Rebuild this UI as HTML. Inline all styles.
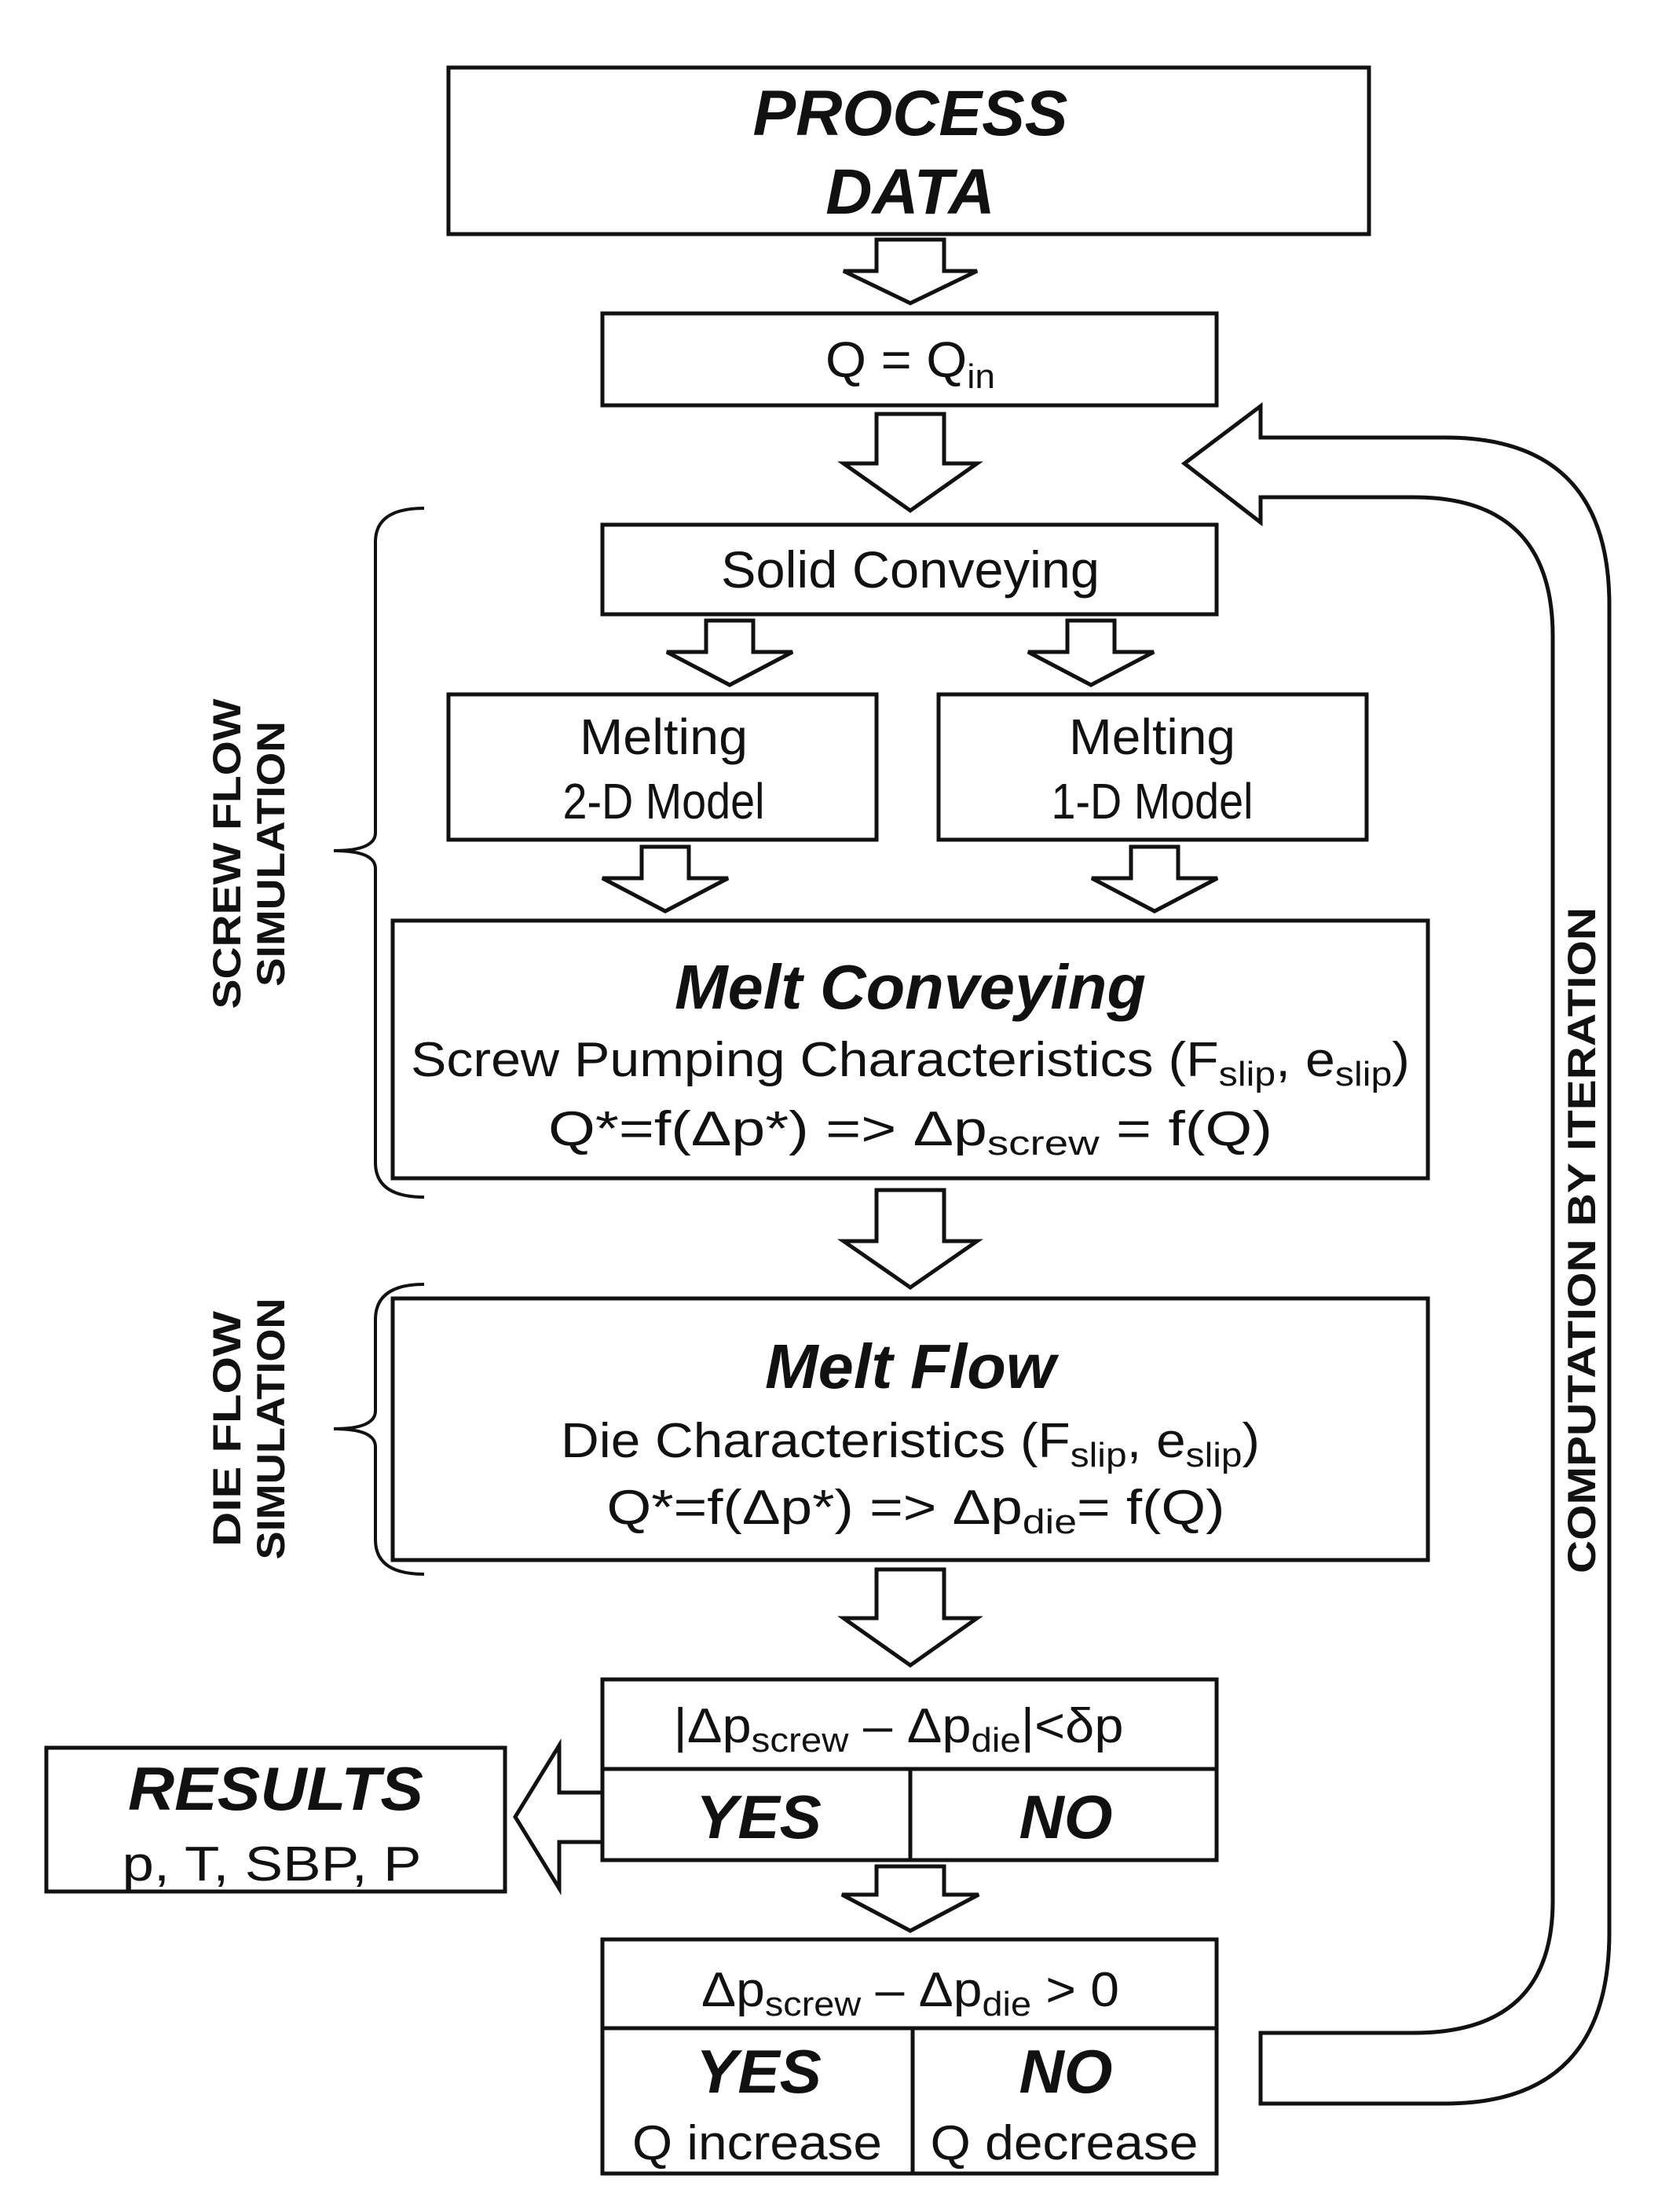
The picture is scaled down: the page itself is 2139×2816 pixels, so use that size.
<!DOCTYPE html>
<html><head><meta charset="utf-8"><style>
html,body{margin:0;padding:0;background:#fff}
svg{display:block}
text{font-family:"Liberation Sans Narrow","Liberation Sans",sans-serif;fill:#111}
.b{font-weight:bold;font-style:italic}
.r{font-family:"Liberation Sans",sans-serif;font-weight:bold}
</style></head><body>
<svg width="2139" height="2816" viewBox="0 0 2139 2816" xmlns="http://www.w3.org/2000/svg">
<g fill="#fff" stroke="#111" stroke-width="5">
<rect x="571" y="86" width="1172" height="212"/>
<rect x="767" y="399" width="782" height="117"/>
<rect x="767" y="668" width="782" height="114"/>
<rect x="571" y="884" width="545" height="185"/>
<rect x="1195" y="884" width="545" height="185"/>
<rect x="500" y="1172" width="1318" height="328"/>
<rect x="500" y="1653" width="1318" height="333"/>
<rect x="767" y="2138" width="782" height="230"/>
<line x1="767" y1="2252" x2="1549" y2="2252"/>
<line x1="1159" y1="2252" x2="1159" y2="2368"/>
<rect x="59" y="2225" width="584" height="183"/>
<rect x="767" y="2469" width="782" height="298"/>
<line x1="767" y1="2582" x2="1549" y2="2582"/>
<line x1="1162" y1="2582" x2="1162" y2="2767"/>
<path d="M1116 305 H1202 V345 H1244 L1159 386 L1074 345 H1116 Z"/>
<path d="M1116 527 H1202 V590 H1244 L1159 650 L1074 590 H1116 Z"/>
<path d="M899 790 H959 V830 H1009 L929 872 L849 830 H899 Z"/>
<path d="M1359 790 H1419 V830 H1469 L1389 872 L1309 830 H1359 Z"/>
<path d="M817 1078 H877 V1118 H927 L847 1160 L767 1118 H817 Z"/>
<path d="M1440 1078 H1500 V1118 H1550 L1470 1160 L1390 1118 H1440 Z"/>
<path d="M1116 1515 H1202 V1580 H1244 L1159 1639 L1074 1580 H1116 Z"/>
<path d="M1116 1998 H1202 V2060 H1244 L1159 2120 L1074 2060 H1116 Z"/>
<path d="M1116 2376 H1202 V2412 H1246 L1159 2458 L1072 2412 H1116 Z"/>
<path d="M767 2282 V2345 H712 V2404 L656 2313 L712 2222 V2282 Z"/>
<path d="M1605 2588 H1800 Q1977 2588 1977 2420 V810 Q1977 633 1800 633 H1605 V665 L1508 590 L1605 517 V557 H1840 Q2049 557 2049 770 V2460 Q2049 2678 1840 2678 H1605 Z"/>
</g>
<g fill="none" stroke="#111" stroke-width="4">
<path d="M540 647 Q478 647 478 690 V1060 Q478 1083 425 1083 Q478 1083 478 1106 V1480 Q478 1524 540 1524"/>
<path d="M540 1635 Q478 1635 478 1680 V1796 Q478 1819 425 1819 Q478 1819 478 1842 V1960 Q478 2004 540 2004"/>
</g>
<g text-anchor="middle" lengthAdjust="spacingAndGlyphs">
<text class="b" x="1159" y="172" font-size="82">PROCESS</text>
<text class="b" x="1159" y="272" font-size="82">DATA</text>
<text x="1159" y="480" font-size="64" textLength="216" lengthAdjust="spacingAndGlyphs">Q = Q<tspan font-size="44" dy="14">in</tspan></text>
<text x="1159" y="748" font-size="66" textLength="482" lengthAdjust="spacingAndGlyphs">Solid Conveying</text>
<text x="845" y="960" font-size="64" textLength="214" lengthAdjust="spacingAndGlyphs">Melting</text>
<text x="845" y="1042" font-size="64" textLength="257" lengthAdjust="spacingAndGlyphs">2-D Model</text>
<text x="1467" y="960" font-size="64" textLength="212" lengthAdjust="spacingAndGlyphs">Melting</text>
<text x="1467" y="1042" font-size="64" textLength="257" lengthAdjust="spacingAndGlyphs">1-D Model</text>
<text class="b" x="1159" y="1284" font-size="80" textLength="600" lengthAdjust="spacingAndGlyphs">Melt Conveying</text>
<text x="1159" y="1370" font-size="62" textLength="1272" lengthAdjust="spacingAndGlyphs">Screw Pumping Characteristics (F<tspan font-size="44" dy="12">slip</tspan><tspan dy="-12">, e</tspan><tspan font-size="44" dy="12">slip</tspan><tspan dy="-12">)</tspan></text>
<text x="1159" y="1458" font-size="62" textLength="922" lengthAdjust="spacingAndGlyphs">Q*=f(Δp*) =&gt; Δp<tspan font-size="44" dy="12">screw</tspan><tspan dy="-12"> = f(Q)</tspan></text>
<text class="b" x="1159" y="1767" font-size="80" textLength="370" lengthAdjust="spacingAndGlyphs">Melt Flow</text>
<text x="1159" y="1855" font-size="62" textLength="890" lengthAdjust="spacingAndGlyphs">Die Characteristics (F<tspan font-size="44" dy="12">slip</tspan><tspan dy="-12">, e</tspan><tspan font-size="44" dy="12">slip</tspan><tspan dy="-12">)</tspan></text>
<text x="1166" y="1940" font-size="62" textLength="787" lengthAdjust="spacingAndGlyphs">Q*=f(Δp*) =&gt; Δp<tspan font-size="44" dy="12">die</tspan><tspan dy="-12">= f(Q)</tspan></text>
<text x="1144" y="2218" font-size="62" textLength="573" lengthAdjust="spacingAndGlyphs">|Δp<tspan font-size="44" dy="12">screw</tspan><tspan dy="-12"> – Δp</tspan><tspan font-size="44" dy="12">die</tspan><tspan dy="-12">|&lt;δp</tspan></text>
<text class="b" x="966" y="2340" font-size="78" textLength="160" lengthAdjust="spacingAndGlyphs">YES</text>
<text class="b" x="1357" y="2340" font-size="78" textLength="119" lengthAdjust="spacingAndGlyphs">NO</text>
<text class="b" x="351" y="2304" font-size="78" textLength="376" lengthAdjust="spacingAndGlyphs">RESULTS</text>
<text x="346" y="2394" font-size="62" textLength="381" lengthAdjust="spacingAndGlyphs">p, T, SBP, P</text>
<text x="1159" y="2554" font-size="62" textLength="532" lengthAdjust="spacingAndGlyphs">Δp<tspan font-size="44" dy="12">screw</tspan><tspan dy="-12"> – Δp</tspan><tspan font-size="44" dy="12">die</tspan><tspan dy="-12"> &gt; 0</tspan></text>
<text class="b" x="966" y="2664" font-size="78" textLength="160" lengthAdjust="spacingAndGlyphs">YES</text>
<text class="b" x="1357" y="2664" font-size="78" textLength="119" lengthAdjust="spacingAndGlyphs">NO</text>
<text x="964" y="2749" font-size="62" textLength="318" lengthAdjust="spacingAndGlyphs">Q increase</text>
<text x="1355" y="2749" font-size="62" textLength="341" lengthAdjust="spacingAndGlyphs">Q decrease</text>
<text class="r" font-size="50" textLength="848" lengthAdjust="spacingAndGlyphs" transform="translate(2031 1579) rotate(-90)">COMPUTATION BY ITERATION</text>
<text class="r" font-size="50" textLength="395" lengthAdjust="spacingAndGlyphs" transform="translate(306 1087) rotate(-90)">SCREW  FLOW</text>
<text class="r" font-size="50" textLength="338" lengthAdjust="spacingAndGlyphs" transform="translate(362 1087) rotate(-90)">SIMULATION</text>
<text class="r" font-size="50" textLength="300" lengthAdjust="spacingAndGlyphs" transform="translate(306 1819) rotate(-90)">DIE  FLOW</text>
<text class="r" font-size="50" textLength="333" lengthAdjust="spacingAndGlyphs" transform="translate(362 1819) rotate(-90)">SIMULATION</text>
</g>
</svg>
</body></html>
